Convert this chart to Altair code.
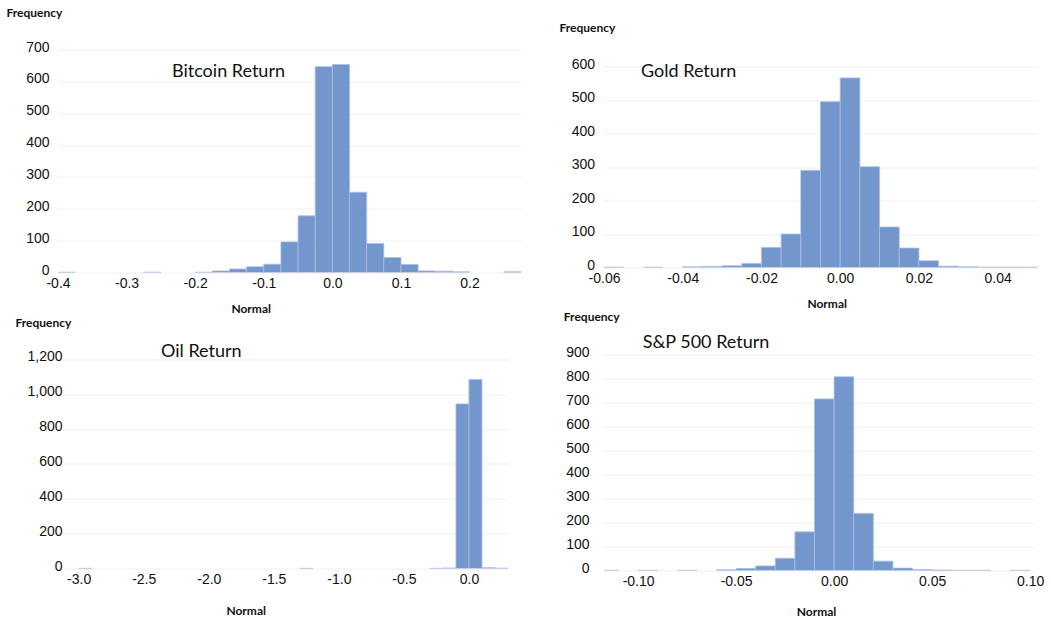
import altair as alt
import pandas as pd

# ---------------- data ----------------
btc_start = [-0.4, -0.275, -0.2, -0.175, -0.15, -0.125, -0.1, -0.075, -0.05, -0.025,
             0.0, 0.025, 0.05, 0.075, 0.1, 0.125, 0.15, 0.175, 0.25]
btc_end = [-0.375, -0.25, -0.175, -0.15, -0.125, -0.1, -0.075, -0.05, -0.025, 0.0,
           0.025, 0.05, 0.075, 0.1, 0.125, 0.15, 0.175, 0.2, 0.275]
btc_count = [1, 1, 1, 5, 11, 18, 26, 96, 178, 646,
             653, 252, 91, 47, 25, 5, 4, 2, 2]

gold_start = [-0.06, -0.05, -0.04, -0.035, -0.03, -0.025, -0.02, -0.015, -0.01, -0.005,
              0.0, 0.005, 0.01, 0.015, 0.02, 0.025, 0.03, 0.035, 0.04, 0.045]
gold_end = [-0.055, -0.045, -0.035, -0.03, -0.025, -0.02, -0.015, -0.01, -0.005, 0.0,
            0.005, 0.01, 0.015, 0.02, 0.025, 0.03, 0.035, 0.04, 0.045, 0.05]
gold_count = [1, 1, 2, 3, 5, 12, 60, 100, 290, 495,
              566, 301, 121, 58, 20, 4, 2, 1, 1, 1]

oil_start = [-3.0, -1.3, -0.3, -0.2, -0.1, 0.0, 0.1, 0.2]
oil_end = [-2.9, -1.2, -0.2, -0.1, 0.0, 0.1, 0.2, 0.3]
oil_count = [1, 1, 1, 3, 945, 1085, 5, 2]

sp_start = [-0.12, -0.10, -0.08, -0.06, -0.05, -0.04, -0.03, -0.02, -0.01,
            0.0, 0.01, 0.02, 0.03, 0.04, 0.05, 0.06, 0.07, 0.09]
sp_end = [-0.11, -0.09, -0.07, -0.05, -0.04, -0.03, -0.02, -0.01, 0.0,
          0.01, 0.02, 0.03, 0.04, 0.05, 0.06, 0.07, 0.08, 0.10]
sp_count = [1, 1, 1, 3, 8, 19, 51, 161, 715,
            807, 238, 39, 10, 4, 2, 1, 1, 1]

btc_xticks = [-0.4, -0.3, -0.2, -0.1, 0.0, 0.1, 0.2]
btc_yticks = [0, 100, 200, 300, 400, 500, 600, 700]
gold_xticks = [-0.06, -0.04, -0.02, 0.0, 0.02, 0.04]
gold_yticks = [0, 100, 200, 300, 400, 500, 600]
oil_xticks = [-3.0, -2.5, -2.0, -1.5, -1.0, -0.5, 0.0]
oil_yticks = [0, 200, 400, 600, 800, 1000, 1200]
sp_xticks = [-0.10, -0.05, 0.0, 0.05, 0.10]
sp_yticks = [0, 100, 200, 300, 400, 500, 600, 700, 800, 900]

BAR = "#7396cc"
EDGE = "#a9bee2"
TXT = "#111111"
HYPHEN = "replace(datum.label, '\u2212', '-')"


def panel(name, start, end, count, xdom, xticks, xfmt, ydom, yticks, yfmt,
          w, h, ylabpad, freq_xy, norm_xy, title_xy):
    df = pd.DataFrame({"start": start, "end": end, "count": count})
    xax = alt.Axis(values=xticks, format=xfmt, labelExpr=HYPHEN, grid=False, domain=False,
                   ticks=False, labelFont="Liberation Sans", labelFontSize=14, labelColor=TXT,
                   labelPadding=3.5, labelFlush=False, labelOverlap=False,
                   title="Normal", titleFont="Lato", titleFontSize=12, titleFontWeight="bold",
                   titleColor=TXT, titleX=norm_xy[0], titleY=norm_xy[1],
                   titleAlign="center", titleBaseline="middle")
    yax = alt.Axis(values=yticks, format=yfmt, grid=True, gridColor="#efefef", gridWidth=1,
                   domain=False, ticks=False,
                   labelFont="Liberation Sans", labelFontSize=14, labelColor=TXT,
                   labelPadding=ylabpad, labelOffset=-2.5, labelFlush=False,
                   title="Frequency", titleFont="Lato", titleFontSize=12, titleFontWeight="bold",
                   titleColor=TXT, titleAngle=0, titleX=freq_xy[0], titleY=freq_xy[1],
                   titleAlign="left", titleBaseline="middle")
    bars = alt.Chart(df).mark_bar(color=BAR, stroke=EDGE, strokeWidth=0.8, clip=True).encode(
        x=alt.X("start:Q", scale=alt.Scale(domain=xdom, nice=False, zero=False), axis=xax),
        x2="end:Q",
        y=alt.Y("count:Q", scale=alt.Scale(domain=ydom, nice=False), axis=yax),
        y2=alt.datum(0),
    )
    ttl = alt.Chart(pd.DataFrame({"t": [name]})).mark_text(
        align="left", baseline="middle", font="Lato", fontSize=18, color="#111111"
    ).encode(text="t:N", x=alt.value(title_xy[0]), y=alt.value(title_xy[1]))
    return alt.layer(bars, ttl).properties(width=w, height=h)


btc = panel("Bitcoin Return", btc_start, btc_end, btc_count, [-0.4, 0.275], btc_xticks, ".1f",
            [0, 700], btc_yticks, ",d", 463, 223, 9, (-52, -36.7), (192.7, 36.3), (114, 22.5))
gold = panel("Gold Return", gold_start, gold_end, gold_count, [-0.06, 0.05], gold_xticks, ".2f",
             [0, 651], gold_yticks, ",d", 433, 218, 9.5, (-45, -22.3), (222.7, 35.7), (37, 22.3))
oil = panel("Oil Return", oil_start, oil_end, oil_count, [-3.159, 0.3], oil_xticks, ".1f",
            [0, 1228.7], oil_yticks, ",d", 450, 214, -4, (-43, -31.7), (187.7, 42.4), (103, -2.7))
sp = panel("S&P 500 Return", sp_start, sp_end, sp_count, [-0.1174, 0.103], sp_xticks, ".2f",
           [0, 900], sp_yticks, ",d", 432, 216, 15, (-40.7, -37.7), (212, 41), (38.7, -11.7))

chart = alt.concat(btc, gold, oil, sp, columns=2, bounds="flush",
                   spacing={"row": 82, "column": 83}).properties(
    padding={"left": 6, "top": 6.5, "right": 2, "bottom": 2}
).configure_view(stroke=None)

chart.save("out.html", embed_options={"renderer": "svg", "actions": False})
